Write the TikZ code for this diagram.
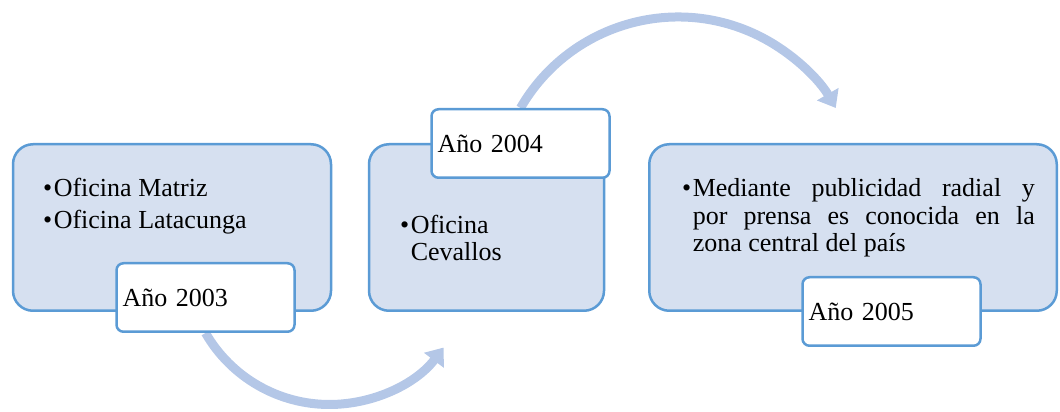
\documentclass[tikz,border=0pt]{standalone}
\usepackage{fontspec}
\setmainfont{Liberation Serif}
\definecolor{StageFill}{HTML}{D6E0F0}
\definecolor{StageLine}{HTML}{5B9BD5}
\definecolor{FlowBlue}{HTML}{B4C7E7}
\usetikzlibrary{positioning,calc,arrows.meta,backgrounds}
\newcommand{\bul}{\textbullet\kern1.5pt}
\tikzset{
  stagebox/.style={draw=StageLine, fill=StageFill, line width=2.5pt,
    rounded corners=20pt, inner sep=0pt, minimum height=166.5pt},
  yearbox/.style={draw=StageLine, fill=white, line width=2.5pt,
    rounded corners=7pt, minimum height=68.5pt, text width=166pt,
    inner xsep=6pt, align=left, font=\fontsize{26}{29}\selectfont},
  itemtext/.style={anchor=north west, inner sep=0pt, align=left,
    font=\fontsize{26}{27.5}\selectfont},
  flowarrow/.style={draw=FlowBlue, line width=9pt,
    -{Triangle[width=24pt,length=16pt]}}
}

\begin{document}
\begin{tikzpicture}[x=1pt, y=1pt]
  \useasboundingbox (0,0) rectangle (1060,412);
  %% stages
  \node[stagebox, minimum width=318pt] (b2003) at (172,184.5) {};
  \node[stagebox, minimum width=235pt] (b2004) at (486.5,184.5) {};
  \node[stagebox, minimum width=407.5pt] (b2005) at (853,184.5) {};
  %% stage texts
  \node[itemtext] (t2003) at (43,234.5)
    {\strut\bul Oficina Matriz\\[4.5pt]\bul Oficina Latacunga};
  \node[itemtext] (t2004) at (400,198)
    {\strut\bul Oficina\\\phantom{\bul}Cevallos};
  \node[itemtext] (t2005) at (682,234.5)
    {\strut\bul\parbox[t]{342pt}{\strut Mediante publicidad radial y\linebreak
     por prensa es conocida en la\linebreak
     zona central del país}};
  %% years
  \node[yearbox] (y2003) at (205.5,114.5) {Año 2003};
  \node[yearbox] (y2004) at (520.5,268.5) {Año 2004};
  \node[yearbox] (y2005) at (891.5,100.5) {Año 2005};
  %% arrows
  \begin{scope}[on background layer]
    \draw[flowarrow] (y2003.south) arc[start angle=210, end angle=323, radius=143pt];
    \draw[flowarrow] (y2004.north) arc[start angle=150, end angle=30, radius=182pt];
  \end{scope}
\end{tikzpicture}
\end{document}
